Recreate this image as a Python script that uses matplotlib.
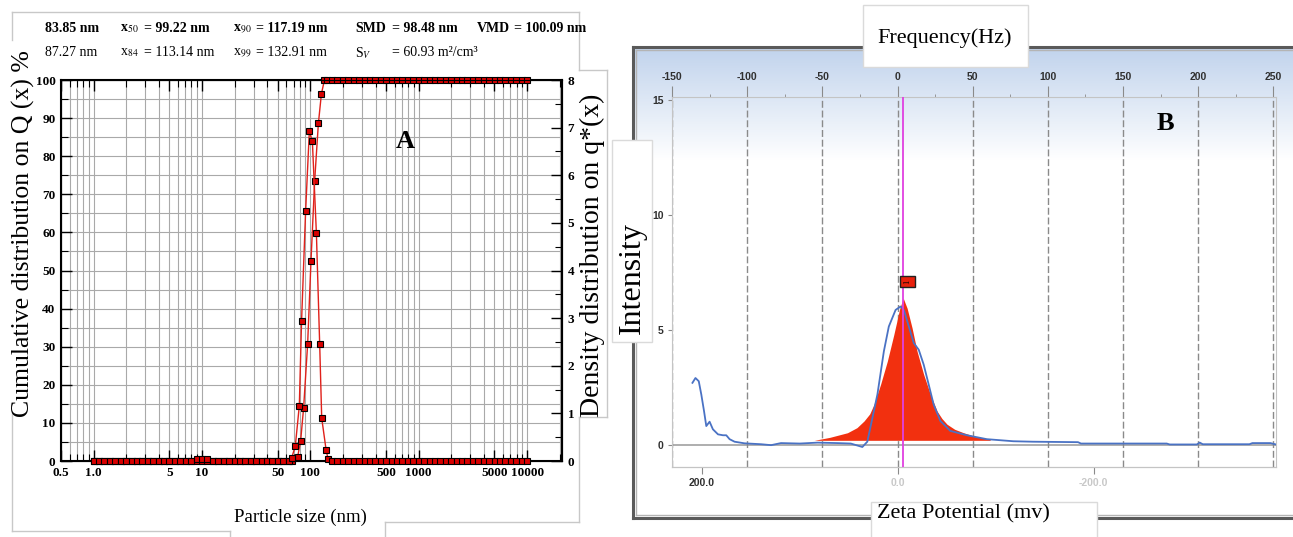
import numpy as np
import matplotlib
matplotlib.use('Agg')
import matplotlib.pyplot as plt
from matplotlib.ticker import LogLocator, MultipleLocator, NullFormatter
from matplotlib.patches import Rectangle
from matplotlib.colors import LinearSegmentedColormap

plt.rcParams['font.family'] = ['Liberation Serif', 'DejaVu Sans']
plt.rcParams['mathtext.fontset'] = 'stix'
plt.rcParams['axes.unicode_minus'] = False

# ---------------- panel A : particle size distribution ----------------
size_lo = [1.0, 1.12, 1.26, 1.41, 1.58, 1.78, 2.0, 2.24, 2.51, 2.82, 3.16, 3.55, 3.98, 4.47,
           5.01, 5.62, 6.31, 7.08, 7.94, 8.91, 10.0, 11.2, 12.6, 14.1, 15.8, 17.8, 20.0, 22.4,
           25.1, 28.2, 31.6, 35.5, 39.8, 44.7, 50.1, 56.2, 63.1]
size_hi = [141, 158, 178, 200, 224, 251, 282, 316, 355, 398, 447, 501, 562, 631, 708, 794,
           891, 1000, 1122, 1259, 1413, 1585, 1778, 1995, 2239, 2512, 2818, 3162, 3548, 3981,
           4467, 5012, 5623, 6310, 7079, 7943, 8913, 10000]
cum_rise_x = [67.1, 76.3, 81.3, 86.7, 94.4, 101.4, 109.6, 118.6, 126.4, 134.9]
cum_rise_y = [0.0, 1.1, 5.2, 14.0, 30.7, 52.6, 73.6, 88.6, 96.3, 100.0]
dens_lo = [0.0] * 19 + [0.04, 0.04, 0.04] + [0.0] * 15
dens_peak_x = [67.1, 72.6, 79.1, 83.0, 90.4, 97.9, 104.4, 113.7, 121.9, 127.3, 139.8, 145.8]
dens_peak_y = [0.06, 0.31, 1.16, 2.95, 5.24, 6.93, 6.71, 4.78, 2.46, 0.90, 0.23, 0.04]

cum_x = size_lo + cum_rise_x + size_hi
cum_y = [0.0] * len(size_lo) + cum_rise_y + [100.0] * len(size_hi)
dens_x = size_lo + dens_peak_x + size_hi[1:]
dens_y = dens_lo + dens_peak_y + [0.0] * (len(size_hi) - 1)

xticks_a = [0.5, 1, 5, 10, 50, 100, 500, 1000, 5000, 10000]
xtick_labels_a = ['0.5', '1.0', '5', '10', '50', '100', '500', '1000', '5000', '10000']

info_row1 = [(r'x$_{50}$', '= 99.22 nm'), (r'x$_{90}$', '= 117.19 nm'),
             ('SMD', '= 98.48 nm'), ('VMD', '= 100.09 nm')]
info_row2 = [(r'x$_{84}$', '= 113.14 nm'), (r'x$_{99}$', '= 132.91 nm'),
             (r'S$_{V}$', '= 60.93 m²/cm³')]

# ---------------- panel B : zeta potential ----------------
blue_mv = [-136.4, -134.4, -132.2, -130.5, -128.7, -127.2, -125.0, -122.8, -119.4, -116.1,
           -113.9, -111.7, -108.4, -101.8, -90.7, -84.1, -77.5, -65.0, -53.2, -40.0, -31.1,
           -23.4, -20.1, -13.4, -9.1, -5.8, -1.3, 2.0, 4.2, 7.5, 10.8, 14.1, 17.4, 20.7, 24.0,
           28.5, 35.1, 46.2, 59.4, 77.0, 90.0, 120.0, 122.0, 179.0, 181.0, 199.0, 201.0,
           203.0, 234.0, 236.0, 248.0, 251.7]
blue_int = [2.70, 2.91, 2.77, 2.19, 1.47, 0.82, 1.01, 0.68, 0.46, 0.42, 0.42, 0.25, 0.14, 0.07,
            0.03, -0.01, 0.08, 0.06, 0.10, 0.08, 0.06, -0.09, 0.14, 2.19, 4.07, 5.15, 5.87, 6.02,
            5.87, 5.15, 4.43, 4.14, 3.49, 2.63, 1.76, 1.04, 0.61, 0.42, 0.25, 0.16, 0.14, 0.12,
            0.06, 0.06, 0.02, 0.02, 0.10, 0.03, 0.03, 0.08, 0.08, 0.02]
red_mv = [-55.4, -45.0, -33.3, -27.0, -22.3, -18.5, -15.7, -11.3, -6.8, -2.5, 1.5, 3.8, 6.4,
          9.7, 13.0, 17.4, 21.9, 26.3, 29.5, 32.9, 38.0, 43.9, 52.0, 61.6]
red_int = [0.2, 0.33, 0.53, 0.75, 1.04, 1.35, 1.76, 2.63, 3.64, 4.79, 5.94, 6.38, 5.94, 5.08,
           4.07, 3.06, 2.19, 1.47, 1.15, 0.90, 0.68, 0.53, 0.36, 0.25]
red_base = 0.2
peak_mv = 3.8
zeta_ticks = [-150, -100, -50, 0, 50, 100, 150, 200, 250]
freq_ticks = [200, 0, -200]
freq_labels = ['200.0', '0.0', '-200.0']

W, H = 1293, 537
fig = plt.figure(figsize=(W / 100, H / 100), dpi=100)


def px_box(l, t, r, b):
    return [l / W, 1 - b / H, (r - l) / W, (b - t) / H]


# gradient behind panel B
bg = fig.add_axes(px_box(635, 49, 1293, 516), zorder=0)
grad = np.clip(1 - np.linspace(0, 1, 300) * 4.2, 0, 1)[:, None]
cmap_bg = LinearSegmentedColormap.from_list('bg', ['white', '#c2d4ed'])
bg.imshow(grad, aspect='auto', cmap=cmap_bg, vmin=0, vmax=1)
bg.axis('off')

# ---- panel A ----
ax = fig.add_axes(px_box(61, 80, 562, 461), zorder=1)
ax.set_xscale('log')
ax.set_xlim(0.5, 21000)
ax.set_ylim(0, 100)
ax.plot(cum_x, cum_y, color='#e0201a', lw=1, marker='s', ms=5, mfc='#d80000',
        mec='black', mew=0.8, zorder=3, clip_on=False)
ax.set_xticks(xticks_a)
ax.set_xticklabels(xtick_labels_a)
ax.xaxis.set_minor_locator(LogLocator(base=10, subs=np.arange(2, 10), numticks=50))
ax.xaxis.set_minor_formatter(NullFormatter())
ax.set_yticks(range(0, 101, 10))
ax.yaxis.set_minor_locator(MultipleLocator(5))
ax.grid(which='both', color='#a9a9a9', lw=0.8)
ax.set_axisbelow(True)
ax.tick_params(which='major', direction='in', length=8, width=1, top=True, pad=4)
ax.tick_params(which='minor', direction='in', length=5, width=0.8, top=True)
for s in ax.spines.values():
    s.set_linewidth(1.5)

ax2 = ax.twinx()
ax2.set_ylim(0, 8)
ax2.plot(dens_x, dens_y, color='#e0201a', lw=1, marker='s', ms=5, mfc='#d80000',
         mec='black', mew=0.8, zorder=3, clip_on=False)
ax2.set_yticks(range(0, 9))
ax2.yaxis.set_minor_locator(MultipleLocator(0.5))
ax2.tick_params(which='major', direction='in', length=8, width=1, pad=4)
ax2.tick_params(which='minor', direction='in', length=5, width=0.8)
for lbl in ax.get_xticklabels() + ax.get_yticklabels() + ax2.get_yticklabels():
    lbl.set_fontsize(9.5)
    lbl.set_fontweight('bold')

# ---- panel B ----
axB = fig.add_axes(px_box(672, 97, 1276, 467), zorder=2)
axB.set_facecolor('none')
axB.set_xlim(-150, 251.7)
axB.set_ylim(-0.96, 15.13)
axB.axhline(0, color='#a8a8a8', lw=1.3, zorder=1)
axB.fill_between(red_mv, red_base, red_int, color='#f2300f', lw=0, zorder=2)
axB.plot(blue_mv, blue_int, color='#4a72c4', lw=1.3, zorder=3)
axB.axvline(peak_mv, color='#e040e0', lw=1.3, zorder=4)
axB.text(6.6, 7.1, '1', rotation=90, fontsize=6, ha='center', va='center', zorder=5,
         bbox=dict(boxstyle='square,pad=0.4', fc='#e8200c', ec='#202020', lw=1))
axB.xaxis.tick_top()
axB.set_xticks(zeta_ticks)
axB.xaxis.set_minor_locator(MultipleLocator(25))
axB.set_yticks([0, 5, 10, 15])
axB.grid(axis='x', color='#8a8a8a', lw=1, ls=(0, (5, 2)))
axB.tick_params(axis='x', which='major', direction='out', length=8, color='#8a8a8a', pad=3)
axB.tick_params(axis='x', which='minor', direction='out', length=2.5, color='#8a8a8a')
axB.tick_params(axis='y', direction='out', length=3, color='#8a8a8a', pad=3)
for s in axB.spines.values():
    s.set_color('#c4c4c4')

sec = axB.secondary_xaxis('bottom', functions=(lambda v: -v * 1.534, lambda f: -f / 1.534))
sec.set_xticks(freq_ticks, labels=freq_labels)
sec.tick_params(direction='out', length=5, color='#8a8a8a', pad=3)
sec.spines['bottom'].set_color('#c4c4c4')
for lbl in axB.get_xticklabels() + axB.get_yticklabels() + sec.get_xticklabels():
    lbl.set_fontfamily(['Liberation Sans Narrow', 'Liberation Sans'])
    lbl.set_fontweight('bold')
    lbl.set_fontsize(7.5)
    lbl.set_color('#303030')
for lbl in sec.get_xticklabels()[1:]:
    lbl.set_color('#c8c8c8')

# ---- overlay: frames, boxes, labels ----
ov = fig.add_axes([0, 0, 1, 1], zorder=5)
ov.set_xlim(0, W)
ov.set_ylim(H, 0)
ov.axis('off')
ov.patch.set_alpha(0)

gray = '#c8c8c8'
for xs, ys in [([12, 579], [12, 12]), ([12, 12], [12, 40]), ([12, 12], [413, 531]),
               ([12, 230], [531, 531]), ([230, 230], [531, 537]), ([385, 385], [522, 537]),
               ([385, 579], [522, 522]), ([579, 579], [12, 70]), ([579, 607], [70, 70]),
               ([607, 607], [70, 417]), ([579, 607], [417, 417]), ([579, 579], [417, 522])]:
    ov.plot(xs, ys, color=gray, lw=1, zorder=1)

for xs, ys in [([633, 633], [47, 518]), ([633, W], [47, 47]), ([633, W], [518, 518])]:
    ov.plot(xs, ys, color='#5a5a5a', lw=2.2, zorder=1)
for xs, ys in [([636, 636], [50, 515]), ([636, W], [50, 50]), ([636, W], [515, 515])]:
    ov.plot(xs, ys, color='#b4b4b4', lw=1, zorder=1)

for rect in [(863, 5, 165, 62), (612, 140, 40, 202), (871, 502, 226, 50)]:
    ov.add_patch(Rectangle(rect[:2], rect[2], rect[3], fc='white', ec='#dadada', lw=1,
                           zorder=3))

ov.text(23, 234, 'Cumulative distribution on Q (x) %', rotation=90, ha='center', va='center',
        fontsize=18.5, zorder=4)
ov.text(592, 255, 'Density distribution on q*(x)', rotation=90, ha='center', va='center',
        fontsize=20, zorder=4)
ov.text(300, 517, 'Particle size (nm)', ha='center', va='center', fontsize=13.5, zorder=4)
ov.text(405, 141, 'A', ha='center', va='center', fontsize=19, fontweight='bold', zorder=4)

ov.text(45, 29, '83.85 nm', ha='left', va='center', fontsize=10, fontweight='bold')
ov.text(45, 53, '87.27 nm', ha='left', va='center', fontsize=10)
for (lab, val), xl, xv in zip(info_row1, [120, 233, 355, 477], [144, 256, 392, 514]):
    ov.text(xl, 29, lab, ha='left', va='center', fontsize=10, fontweight='bold')
    ov.text(xv, 29, val, ha='left', va='center', fontsize=10, fontweight='bold')
for (lab, val), xl, xv in zip(info_row2, [120, 233, 355], [144, 256, 392]):
    ov.text(xl, 53, lab, ha='left', va='center', fontsize=10)
    ov.text(xv, 53, val, ha='left', va='center', fontsize=10)

ov.text(945, 38, 'Frequency(Hz)', ha='center', va='center', fontsize=16, zorder=4)
ov.text(632, 278, 'Intensity', rotation=90, ha='center', va='center', fontsize=23, zorder=4)
ov.text(963, 514, 'Zeta Potential (mv)', ha='center', va='center', fontsize=16, zorder=4)
ov.text(1165, 123, 'B', ha='center', va='center', fontsize=19, fontweight='bold', zorder=4)

fig.savefig('out.png', dpi=100)
